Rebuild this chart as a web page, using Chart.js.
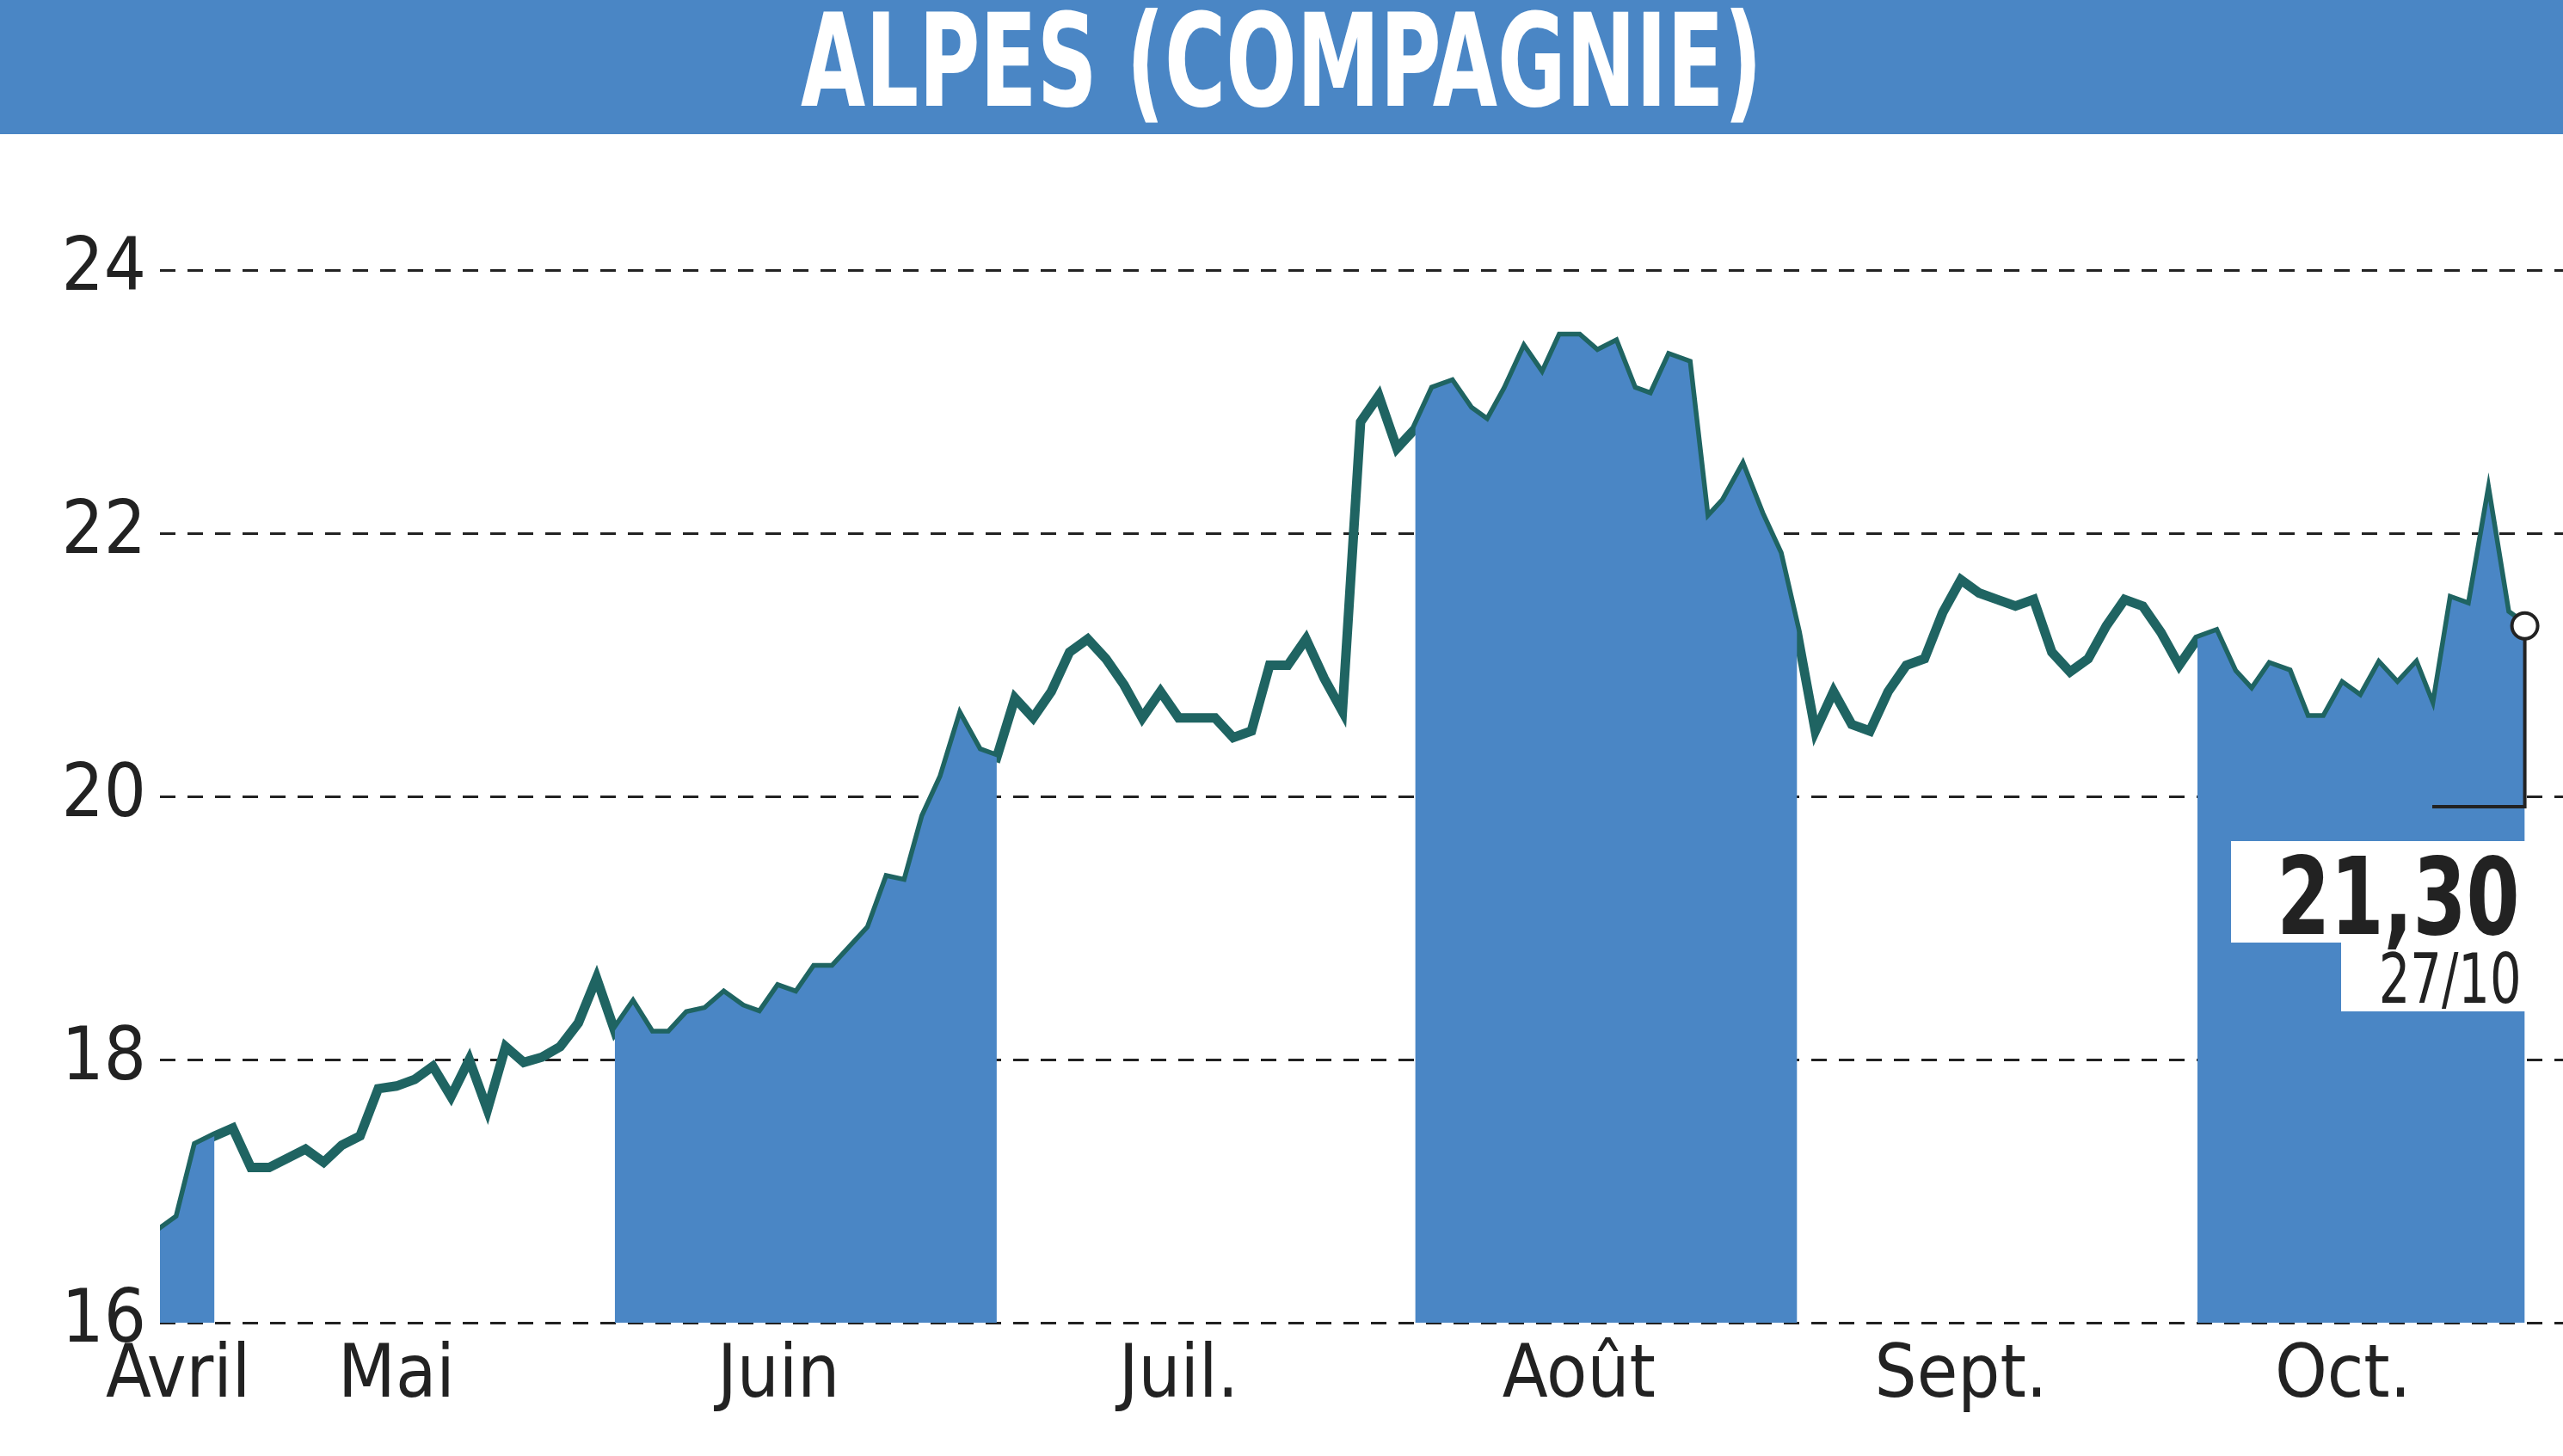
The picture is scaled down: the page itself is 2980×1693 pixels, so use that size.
<!DOCTYPE html>
<html>
<head>
<meta charset="utf-8">
<script src="https://cdn.jsdelivr.net/npm/chart.js@4/dist/chart.umd.min.js"></script>
<style>
  html, body { margin: 0; padding: 0; background: #fff; }
  canvas { display: block; }
</style>
</head>
<body>
<canvas id="myChart" width="2980" height="1693" style="width:2980px;height:1693px"></canvas>
<script>
const title = 'ALPES (COMPAGNIE)';

// daily closing prices, April -> 27 October
const prices = [
    16.7, 16.8, 17.35, 17.42, 17.48, 17.18, 17.18, 17.25, 17.32, 17.22,
    17.35, 17.42, 17.78, 17.8, 17.85, 17.95, 17.72, 18.0, 17.62, 18.1,
    17.98, 18.02, 18.1, 18.28, 18.62, 18.22, 18.42, 18.2, 18.2, 18.35,
    18.38, 18.5, 18.4, 18.35, 18.55, 18.5, 18.7, 18.7, 18.85, 19.0,
    19.38, 19.35, 19.85, 20.15, 20.6, 20.35, 20.3, 20.75, 20.6, 20.8,
    21.1, 21.2, 21.05, 20.85, 20.6, 20.8, 20.6, 20.6, 20.6, 20.45,
    20.5, 21.0, 21.0, 21.2, 20.9, 20.65, 22.85, 23.05, 22.65, 22.8,
    23.1, 23.15, 22.95, 22.85, 23.1, 23.4, 23.2, 23.5, 23.5, 23.38,
    23.45, 23.1, 23.05, 23.35, 23.3, 22.1, 22.25, 22.5, 22.15, 21.85,
    21.25, 20.5, 20.8, 20.55, 20.5, 20.8, 21.0, 21.05, 21.4, 21.65,
    21.55, 21.5, 21.45, 21.5, 21.1, 20.95, 21.05, 21.3, 21.5, 21.45,
    21.25, 21.0, 21.2, 21.25, 20.95, 20.8, 21.0, 20.95, 20.6, 20.6,
    20.85, 20.75, 21.0, 20.85, 21.0, 20.65, 21.5, 21.45, 22.25, 21.4,
    21.3
];

// index ranges of the shaded months (Avril, Juin, Août, Oct.)
const shadedRanges = [[0, 3], [25, 46], [69, 90], [112, 130]];

const monthLabels = ['Avril', 'Mai', 'Juin', 'Juil.', 'Août', 'Sept.', 'Oct.'];
const monthTicks = [1, 13, 34, 56, 78, 99, 120];

const yTicks = [16, 18, 20, 22, 24];
const lastValue = '21,30';
const lastDate = '27/10';

const lineColor = '#1f6462';
const fillColor = '#4a86c5';
const narrow = "'Liberation Sans Narrow', 'DejaVu Sans Condensed', sans-serif";

const linePoints = prices.map((v, i) => ({ x: i, y: v }));
const fillPoints = prices.map((v, i) =>
    ({ x: i, y: shadedRanges.some(r => i >= r[0] && i <= r[1]) ? v : null }));

const decor = {
    id: 'decor',
    beforeDraw(chart) {
        const ctx = chart.ctx;
        ctx.save();
        ctx.fillStyle = fillColor;
        ctx.fillRect(0, 0, chart.width, 156);
        ctx.fillStyle = '#fff';
        ctx.font = 'bold 150px ' + narrow;
        ctx.textAlign = 'center';
        ctx.textBaseline = 'middle';
        ctx.translate(chart.width / 2, 84);
        ctx.scale(0.72, 1);
        ctx.fillText(title, 0, 0);
        ctx.restore();
    },
    afterDatasetsDraw(chart) {
        const ctx = chart.ctx;
        const xs = chart.scales.x, ys = chart.scales.y;
        const i = prices.length - 1;
        const px = xs.getPixelForValue(i), py = ys.getPixelForValue(prices[i]);
        ctx.save();
        ctx.strokeStyle = '#222';
        ctx.lineWidth = 4;
        ctx.beginPath();
        ctx.moveTo(px, py);
        ctx.lineTo(px, 938);
        ctx.lineTo(2828, 938);
        ctx.stroke();
        ctx.fillStyle = '#fff';
        ctx.fillRect(2594, 978, px - 2594 + 2, 118);
        ctx.fillRect(2722, 1096, px - 2722 + 2, 80);
        ctx.fillStyle = '#222';
        ctx.textAlign = 'right';
        ctx.textBaseline = 'alphabetic';
        ctx.save();
        ctx.translate(px - 6, 1086);
        ctx.scale(0.8, 1);
        ctx.font = 'bold 124px ' + narrow;
        ctx.fillText(lastValue, 0, 0);
        ctx.restore();
        ctx.save();
        ctx.translate(px - 4, 1166);
        ctx.scale(0.8, 1);
        ctx.font = '80px ' + narrow;
        ctx.fillText(lastDate, 0, 0);
        ctx.restore();
        ctx.beginPath();
        ctx.arc(px, py, 15, 0, Math.PI * 2);
        ctx.fillStyle = '#fff';
        ctx.fill();
        ctx.lineWidth = 4;
        ctx.strokeStyle = '#222';
        ctx.stroke();
        ctx.restore();
    }
};

new Chart(document.getElementById('myChart'), {
    type: 'line',
    data: {
        datasets: [
            {
                data: fillPoints,
                borderWidth: 0,
                pointRadius: 0,
                backgroundColor: fillColor,
                fill: 'start',
                spanGaps: false
            },
            {
                data: linePoints,
                borderColor: lineColor,
                borderWidth: 11,
                pointRadius: 0,
                fill: false,
                tension: 0
            }
        ]
    },
    options: {
        responsive: false,
        animation: false,
        devicePixelRatio: 1,
        layout: { padding: { top: 162, right: 0, left: 0, bottom: 0 } },
        plugins: { legend: { display: false }, tooltip: { enabled: false } },
        scales: {
            x: {
                type: 'linear',
                min: 0,
                max: 132.1,
                grid: { display: false },
                border: { display: false },
                afterBuildTicks: s => { s.ticks = monthTicks.map(v => ({ value: v })); },
                afterFit: s => { s.height = 155; },
                ticks: {
                    autoSkip: false,
                    maxRotation: 0,
                    padding: 4,
                    color: '#222',
                    font: { family: narrow, size: 86 },
                    callback: v => monthLabels[monthTicks.indexOf(v)]
                }
            },
            y: {
                min: 16,
                max: 25,
                afterBuildTicks: s => { s.ticks = yTicks.map(v => ({ value: v })); },
                afterFit: s => { s.width = 186; },
                grid: {
                    color: '#222',
                    lineWidth: 3,
                    drawTicks: false
                },
                border: { display: false, dash: [18, 14] },
                ticks: {
                    padding: 16,
                    color: '#222',
                    font: { family: narrow, size: 86 }
                }
            }
        }
    },
    plugins: [decor]
});
</script>
</body>
</html>
